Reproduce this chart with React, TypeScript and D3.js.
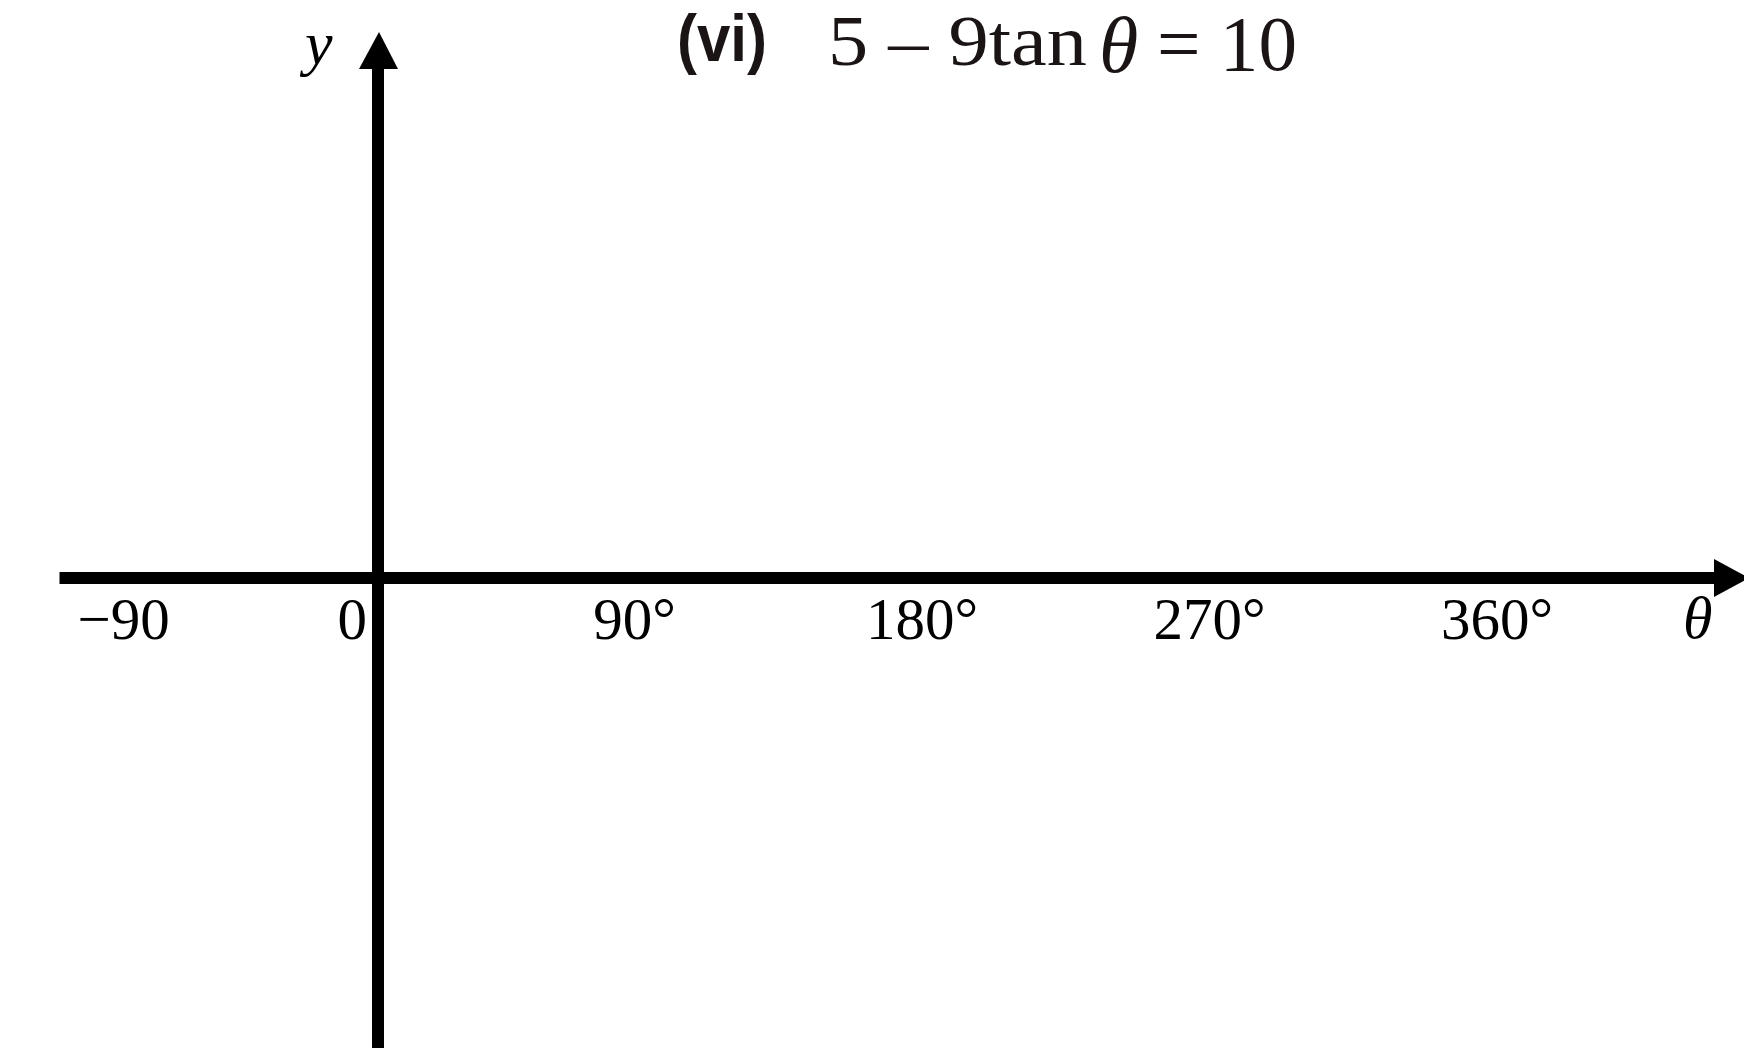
import React from "react";
import * as d3 from "d3";

// Angle ticks along the θ axis and the text printed under each one
const THETA_TICKS = [-90, 0, 90, 180, 270, 360];
const THETA_LABELS = ["\u221290", "0", "90\u00b0", "180\u00b0", "270\u00b0", "360\u00b0"];

// Equation heading pieces
const PART_LABEL = "(vi)";
const EQ_LEFT = "5 \u2013 9tan";
const EQ_VAR = "\u03b8";
const EQ_RIGHT = "= 10";

const W = 1744;
const H = 1048;
const AXIS_W = 12;
const ORIGIN_X = 378; // where the vertical axis crosses
const AXIS_Y = 578; // height of the θ axis
const SERIF = "'Liberation Serif', 'Times New Roman', serif";

export default function App() {
  const x = d3.scaleLinear().domain([0, 360]).range([347, 1497]);

  const xStart = x(-90);
  const xHeadBase = 1714;
  const xTip = 1749;
  const yTip = 32;
  const yHeadBase = 69;

  const labelX = (v: number) => {
    if (v === -90) return { x: xStart + 18, anchor: "start" };
    if (v === 0) return { x: ORIGIN_X - 11, anchor: "end" };
    return { x: x(v), anchor: "middle" };
  };

  return (
    <svg
      width={W}
      height={H}
      viewBox={`0 0 ${W} ${H}`}
      style={{ position: "absolute", left: 0, top: 0, background: "#fff" }}
    >
      <rect x={0} y={0} width={W} height={H} fill="#fff" />

      {/* heading */}
      <text
        x={677}
        y={61}
        fontFamily="'Liberation Sans', Arial, sans-serif"
        fontWeight="bold"
        fontSize={66}
        textLength={90}
        lengthAdjust="spacingAndGlyphs"
        fill="#1a1414"
      >
        {PART_LABEL}
      </text>
      <text
        x={828}
        y={65}
        fontFamily={SERIF}
        fontSize={72}
        textLength={259}
        lengthAdjust="spacingAndGlyphs"
        fill="#1a1414"
      >
        {EQ_LEFT}
      </text>
      <text
        x={1099}
        y={72}
        fontFamily={SERIF}
        fontStyle="italic"
        fontSize={80}
        fill="#1a1414"
      >
        {EQ_VAR}
      </text>
      <text
        x={1157}
        y={70}
        fontFamily={SERIF}
        fontSize={78}
        textLength={140}
        lengthAdjust="spacingAndGlyphs"
        fill="#1a1414"
      >
        {EQ_RIGHT}
      </text>

      {/* θ axis */}
      <line
        x1={xStart}
        x2={xHeadBase + 1}
        y1={AXIS_Y}
        y2={AXIS_Y}
        stroke="#000"
        strokeWidth={AXIS_W}
      />
      <polygon
        points={`${xHeadBase},${AXIS_Y - 19} ${xTip},${AXIS_Y} ${xHeadBase},${AXIS_Y + 19}`}
        fill="#000"
      />

      {/* y axis */}
      <line
        x1={ORIGIN_X}
        x2={ORIGIN_X}
        y1={yHeadBase - 1}
        y2={H}
        stroke="#000"
        strokeWidth={AXIS_W}
      />
      <polygon
        points={`${ORIGIN_X - 19},${yHeadBase} ${ORIGIN_X + 1},${yTip} ${ORIGIN_X + 20},${yHeadBase}`}
        fill="#000"
      />

      {/* axis names */}
      <text x={305} y={64} fontFamily={SERIF} fontStyle="italic" fontSize={62} fill="#000">
        y
      </text>
      <text x={1683} y={638} fontFamily={SERIF} fontStyle="italic" fontSize={60} fill="#000">
        {"\u03b8"}
      </text>

      {/* tick labels */}
      {THETA_TICKS.map((v, i) => {
        const p = labelX(v);
        return (
          <text
            key={v}
            x={p.x}
            y={639}
            textAnchor={p.anchor as any}
            fontFamily={SERIF}
            fontSize={59}
            fill="#000"
          >
            {THETA_LABELS[i]}
          </text>
        );
      })}
    </svg>
  );
}
